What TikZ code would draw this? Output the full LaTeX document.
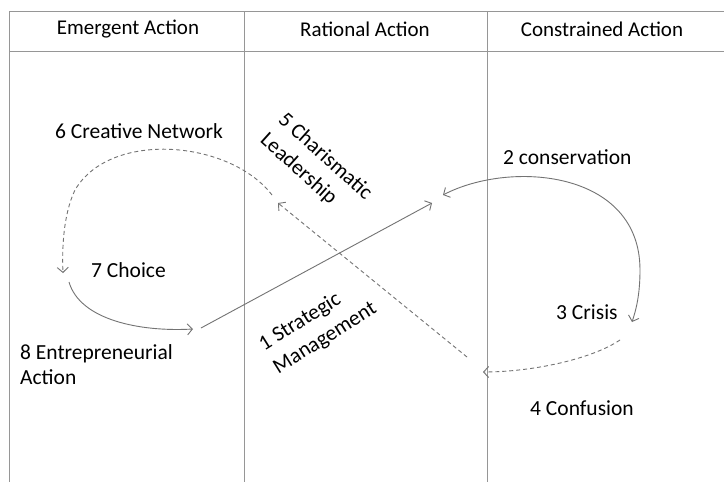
\documentclass[tikz,border=0pt]{standalone}
\usepackage{fontspec}
\setmainfont{Carlito}
\usetikzlibrary{arrows.meta}
\definecolor{gridgray}{RGB}{150,150,150}
\definecolor{arrgray}{RGB}{115,115,115}
\tikzset{
  lbl/.style={inner sep=0pt, font=\fontsize{21.5}{25}\selectfont, text=black},
  rlbl/.style={inner sep=0pt, font=\fontsize{21.5}{27}\selectfont, text=black, align=left},
  hdr/.style={inner sep=0pt, font=\fontsize{21}{24}\selectfont, text=black},
  grid/.style={draw=gridgray, line width=0.9pt},
  flow/.style={draw=arrgray, line width=0.9pt, -{Straight Barb[length=5pt,width=11pt]}},
  dflow/.style={flow, dash pattern=on 4pt off 3pt},
}
\begin{document}
\begin{tikzpicture}[x=1pt,y=-1pt]
\useasboundingbox (0,0) rectangle (724,482);
\fill[white] (0,0) rectangle (724,482);
% table
\draw[grid] (9,482) -- (9,11) -- (724,11);
\draw[grid] (9,51) -- (724,51);
\draw[grid] (244,11) -- (244,482);
\draw[grid] (487,11) -- (487,482);
\node[hdr] (h1) at (128,29) {Emergent Action};
\node[hdr] (h2) at (365,29) {Rational Action};
\node[hdr] (h3) at (602,29) {Constrained Action};
% labels
\node[lbl, anchor=west] (n6) at (55,131) {6 Creative Network};
\node[lbl, anchor=west] (n7) at (91,270) {7 Choice};
\node[lbl, anchor=north west, align=left] (n8) at (20,344) {8 Entrepreneurial\\Action};
\node[lbl, anchor=west] (n2) at (503,157) {2 conservation};
\node[lbl, anchor=west] (n3) at (556,312) {3 Crisis};
\node[lbl, anchor=west] (n4) at (530,408) {4 Confusion};
\node[rlbl, rotate=-42] (n5) at (316,167) {5 Charismatic\\Leadership};
\node[rlbl, rotate=32] (n1) at (318,327) {1 Strategic\\Management};
% connector points
\coordinate (a1s) at (201,328);
\coordinate (a1e) at (432,203);
\coordinate (c2s) at (443,195);
\coordinate (c2e) at (632,322);
\coordinate (d4s) at (620,340);
\coordinate (d4e) at (483,372);
\coordinate (d5s) at (467,357);
\coordinate (d5e) at (278,203);
\coordinate (d6s) at (272,195);
\coordinate (d6e) at (63,273);
\coordinate (c7s) at (69,282);
\coordinate (c7e) at (193,329);
% connectors
\draw[flow] (a1s) -- (a1e);
\draw[flow, {Straight Barb[length=5pt,width=11pt]}-{Straight Barb[length=5pt,width=11pt]}]
  (c2s) .. controls (510,160) and (640,170) .. (640,270) .. controls (640,295) and (636,310) .. (c2e);
\draw[dflow] (d4s) .. controls (590,360) and (530,372) .. (d4e);
\draw[dflow] (d5s) -- (d5e);
\draw[dflow] (d6s) .. controls (230,140) and (110,130) .. (75,190) .. controls (63,215) and (62,250) .. (d6e);
\draw[flow] (c7s) .. controls (80,320) and (140,332) .. (c7e);
\end{tikzpicture}
\end{document}
